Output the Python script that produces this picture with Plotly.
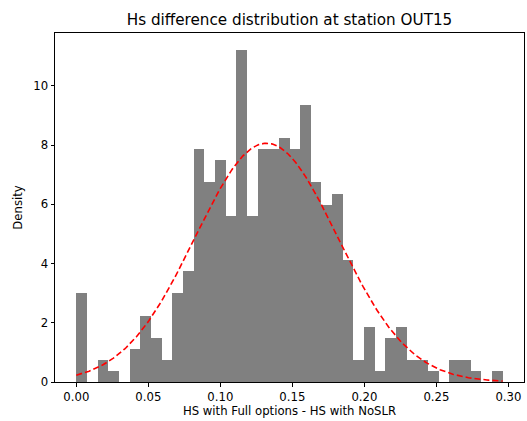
import numpy as np
import plotly.graph_objects as go

# Histogram (density): 40 equal bins from 0.0 to 0.296
bin_start = 0.0
bin_end = 0.296
density = [3.00, 0.00, 0.75, 0.37, 0.00, 1.12, 2.24, 1.50, 0.75, 3.00,
           3.74, 7.86, 6.74, 7.48, 5.61, 11.22, 5.61, 7.86, 7.86, 8.24,
           7.86, 9.36, 6.74, 5.99, 6.36, 4.11, 0.75, 1.87, 0.37, 1.50,
           1.87, 0.75, 0.75, 0.37, 0.00, 0.75, 0.75, 0.37, 0.00, 0.37]

# Fitted normal distribution parameters
fit_mu = 0.132
fit_sigma = 0.0495

x_ticks = [0.00, 0.05, 0.10, 0.15, 0.20, 0.25, 0.30]
y_ticks = [0, 2, 4, 6, 8, 10]

title = "Hs difference distribution at station OUT15"
x_label = "HS with Full options - HS with NoSLR"
y_label = "Density"

n = len(density)
edges = np.linspace(bin_start, bin_end, n + 1)
centers = (edges[:-1] + edges[1:]) / 2
width = edges[1] - edges[0]

xs = np.linspace(bin_start, bin_end, 300)
pdf = np.exp(-0.5 * ((xs - fit_mu) / fit_sigma) ** 2) / (fit_sigma * np.sqrt(2 * np.pi))

fig = go.Figure()
fig.add_trace(go.Bar(x=centers, y=density, width=width,
                     marker=dict(color="#808080", line=dict(width=0)),
                     showlegend=False))
fig.add_trace(go.Scatter(x=xs, y=pdf, mode="lines",
                         line=dict(color="red", width=1.6, dash="6px,3px"),
                         showlegend=False))

span = bin_end - bin_start
ymax = max(max(density), pdf.max()) * 1.05
font = "DejaVu Sans, sans-serif"
fs = 11.7
fig.update_layout(
    width=527, height=421,
    margin=dict(l=55, r=3, t=33, b=39),
    paper_bgcolor="white", plot_bgcolor="white",
    bargap=0,
    font=dict(family=font, size=fs, color="black"),
    title=dict(text=title, x=0.5, xanchor="center", xref="paper",
               y=1 - 20/421, yanchor="middle",
               font=dict(size=15.2, family=font, color="black")),
    xaxis=dict(range=[bin_start - 0.05 * span, bin_end + 0.05 * span],
               tickvals=x_ticks, ticktext=[f"{v:.2f}" for v in x_ticks],
               showgrid=False, zeroline=False, showline=True, linecolor="black",
               linewidth=1, mirror=True, ticks="outside", ticklen=3.5,
               tickcolor="black", tickfont=dict(size=fs),
               title=dict(text=x_label, font=dict(size=fs), standoff=4)),
    yaxis=dict(range=[0, ymax], tickvals=y_ticks,
               showgrid=False, zeroline=False, showline=True, linecolor="black",
               linewidth=1, mirror=True, ticks="outside", ticklen=3.5,
               tickcolor="black", tickfont=dict(size=fs),
               title=dict(text=y_label, font=dict(size=fs), standoff=8)),
)

fig.write_html("out.html")
